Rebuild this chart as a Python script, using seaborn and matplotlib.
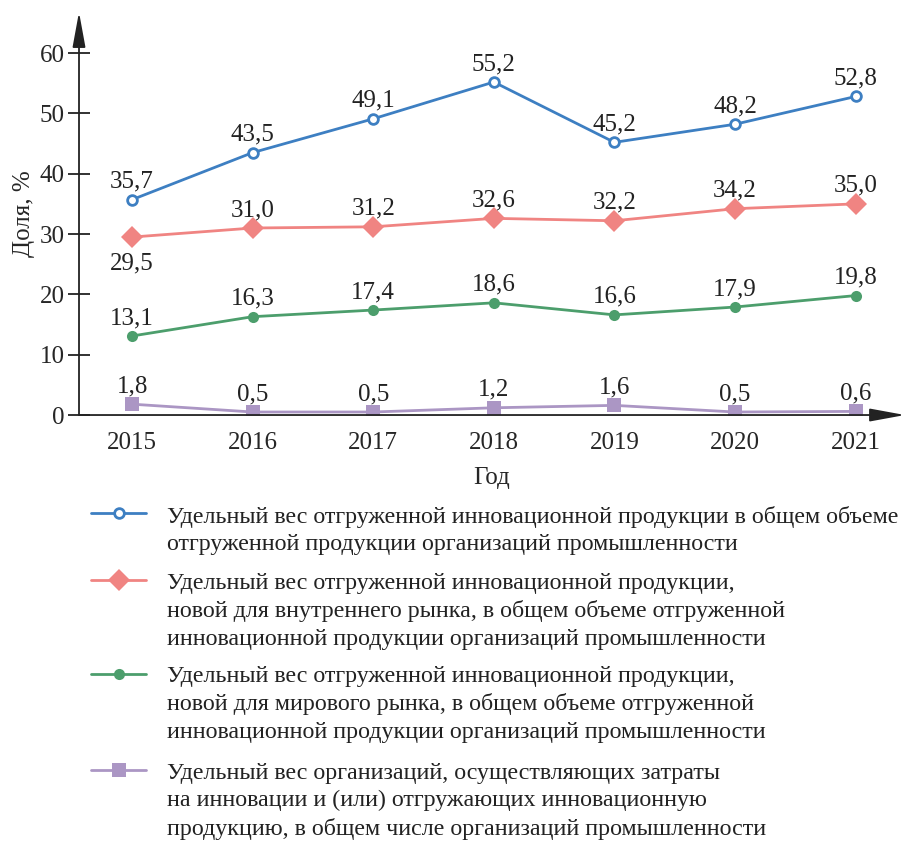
import matplotlib
matplotlib.use("Agg")
import matplotlib.pyplot as plt
import seaborn as sns
import pandas as pd

# data
years = [2015, 2016, 2017, 2018, 2019, 2020, 2021]
share_innov = [35.7, 43.5, 49.1, 55.2, 45.2, 48.2, 52.8]
share_domestic = [29.5, 31.0, 31.2, 32.6, 32.2, 34.2, 35.0]
share_world = [13.1, 16.3, 17.4, 18.6, 16.6, 17.9, 19.8]
share_orgs = [1.8, 0.5, 0.5, 1.2, 1.6, 0.5, 0.6]

labels = [
    "Удельный вес отгруженной инновационной продукции в общем объеме\n"
    "отгруженной продукции организаций промышленности",
    "Удельный вес отгруженной инновационной продукции,\n"
    "новой для внутреннего рынка, в общем объеме отгруженной\n"
    "инновационной продукции организаций промышленности",
    "Удельный вес отгруженной инновационной продукции,\n"
    "новой для мирового рынка, в общем объеме отгруженной\n"
    "инновационной продукции организаций промышленности",
    "Удельный вес организаций, осуществляющих затраты\n"
    "на инновации и (или) отгружающих инновационную\n"
    "продукцию, в общем числе организаций промышленности",
]

sns.set_style("white")
plt.rcParams['font.family'] = ['Liberation Serif', 'DejaVu Serif']
plt.rcParams['font.size'] = 18

fig = plt.figure(figsize=(9.06, 8.42), dpi=100)
ax = fig.add_axes([0.0872, 0.5071, 0.9117, 0.4786])

series = [
    (share_innov, '#3d7fc2', dict(marker='o', markersize=7, markerfacecolor='white',
                                  markeredgecolor='#3d7fc2', markeredgewidth=2)),
    (share_domestic, '#f08482', dict(marker='D', markersize=11, markeredgewidth=0)),
    (share_world, '#4c9e6c', dict(marker='o', markersize=8, markeredgewidth=0)),
    (share_orgs, '#ab96c4', dict(marker='s', markersize=10, markeredgewidth=0)),
]

for vals, col, mk in series:
    df = pd.DataFrame({'year': years, 'value': vals})
    sns.lineplot(data=df, x='year', y='value', color=col, linewidth=2,
                 ax=ax, **mk)
    for i, (x, y) in enumerate(zip(years, vals)):
        txt = f"{y:.1f}".replace('.', ',')
        below = vals is share_domestic and i == 0
        ax.annotate(txt, (x, y), xytext=(0, -26 if below else 18),
                    textcoords='offset pixels', ha='center', va='center',
                    fontsize=18, color='#222222')

ax.set_xlim(2014.56, 2021.41)
ax.set_ylim(0, 66.8)
ax.set_yticks(range(0, 61, 10))
ax.set_xticks(years)
ax.set_xticklabels([str(y) for y in years])

for s in ax.spines.values():
    s.set_visible(False)
arrow = dict(arrowstyle='-|>,head_length=1.2,head_width=0.22', color='#222222',
             lw=1.3, shrinkA=0, shrinkB=0)
ax.annotate('', xy=(0, 1), xytext=(0, 0), xycoords='axes fraction', arrowprops=arrow)
ax.annotate('', xy=(1, 0), xytext=(0, 0), xycoords='axes fraction', arrowprops=arrow)

ax.tick_params(axis='y', direction='inout', length=16, width=1.3, color='#222222',
               pad=2.5, labelsize=18, left=True)
ax.tick_params(axis='x', length=0, pad=12.5, labelsize=18)
ax.set_xlabel('Год', fontsize=18, labelpad=9)
ax.set_ylabel('Доля, %', fontsize=18, labelpad=3)

# legend: handles drawn by separate legends, text placed beside them
handles = ax.get_lines()
handle_y = [515, 582, 676, 773]
text_y = [515, 582, 675, 772]
for h, lab, hy, ty in zip(handles, labels, handle_y, text_y):
    leg = fig.legend([h], [''], loc='center left',
                     bbox_to_anchor=(91 / 906, 1 - hy / 842),
                     frameon=False, fontsize=17, handlelength=2.35,
                     handletextpad=0, borderpad=0, borderaxespad=0)
    fig.text(167 / 906, 1 - (ty - 9) / 842, lab, ha='left', va='top',
             fontsize=17.25, linespacing=1.38, color='#222222')

fig.savefig('out.png', dpi=100)
